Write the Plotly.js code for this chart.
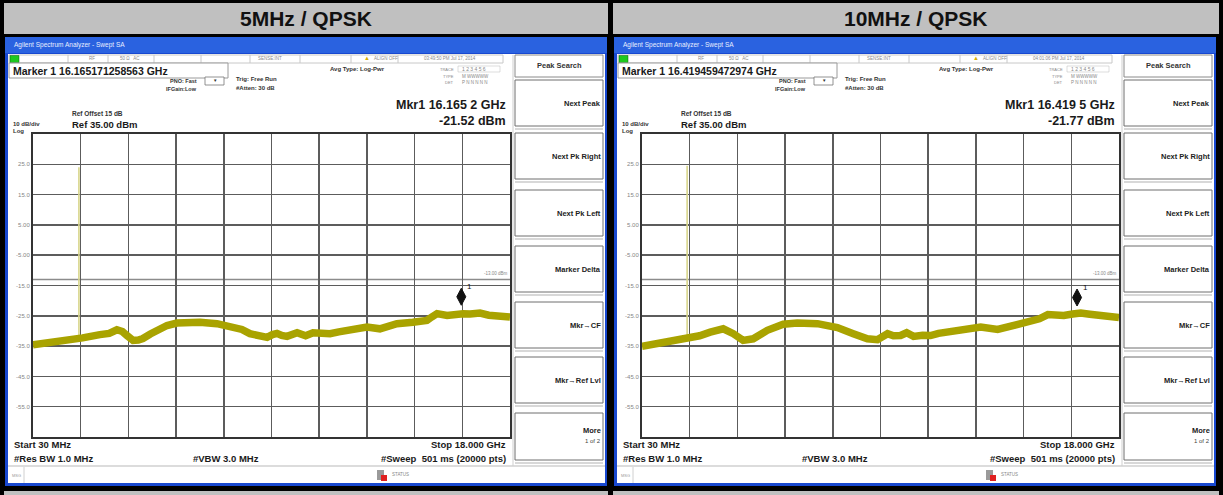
<!DOCTYPE html>
<html><head><meta charset="utf-8">
<script src="https://cdn.plot.ly/plotly-3.0.1.min.js"></script>
<style>html,body{margin:0;padding:0;background:#000}#chart{width:1223px;height:495px}</style>
</head><body><div id="chart"></div>
<script>
// ---------------- DATA ----------------
const panelTitles = ["5MHz / QPSK", "10MHz / QPSK"];

// 5 MHz / QPSK trace (GHz, dBm)
const freq5 = [0.03,0.6,1.31,1.9,2.55,2.9,3.19,3.4,3.57,3.8,4.0,4.17,4.45,4.7,5.08,5.45,5.9,6.32,6.96,7.56,7.9,8.2,8.58,8.85,9.05,9.22,9.4,9.6,9.98,10.3,10.58,10.9,11.22,11.55,11.86,12.2,12.61,13.1,13.4,13.74,14.34,14.87,15.05,15.25,15.63,15.9,16.23,16.5,16.87,17.2,17.51,17.75,18.0];
const level5 = [-34.6,-34.0,-33.1,-32.3,-31.2,-30.8,-29.6,-30.2,-31.5,-33.1,-33.0,-32.5,-31.0,-29.8,-28.2,-27.4,-27.0,-27.1,-27.6,-28.7,-29.5,-30.9,-31.8,-32.1,-31.2,-30.8,-31.5,-31.8,-30.6,-31.6,-30.6,-31.0,-30.9,-30.3,-29.8,-29.6,-28.7,-29.3,-28.5,-27.6,-27.1,-26.5,-25.4,-24.3,-24.9,-24.5,-24.3,-24.4,-24.1,-24.8,-25.2,-25.7,-25.4];

// 10 MHz / QPSK trace (GHz, dBm)
const freq10 = [0.03,0.71,1.2,1.73,2.2,2.6,3.09,3.47,3.84,4.22,4.5,4.75,5.35,5.88,6.64,7.39,7.99,8.52,8.9,9.1,9.28,9.5,9.77,10.0,10.26,10.6,10.9,11.2,11.54,12.15,12.79,13.43,14.04,14.68,15.0,15.32,15.92,16.25,16.56,16.9,17.21,17.6,18.0];
const level10 = [-35.1,-34.0,-33.5,-32.6,-31.6,-30.4,-29.3,-30.9,-33.1,-32.6,-31.2,-29.8,-27.8,-27.4,-27.6,-28.9,-30.9,-32.6,-32.9,-31.6,-30.9,-31.6,-31.5,-30.6,-31.8,-31.4,-31.5,-30.8,-30.4,-29.8,-28.7,-29.5,-28.2,-27.1,-26.0,-24.6,-24.9,-24.4,-24.1,-24.5,-24.9,-25.3,-25.6];

// carrier spike (GHz, dBm)
const carrierFreq5 = [1.76, 1.76];
const carrierLevel5 = [-33.0, 24.0];
const carrierFreq10 = [1.73, 1.73];
const carrierLevel10 = [-32.6, 24.5];

// marker 1
const markerFreq = [16.165171258563, 16.419459472974];
const markerLevel = [-21.52, -21.77];
const markerReadout = ["Marker 1 16.165171258563 GHz", "Marker 1 16.419459472974 GHz"];
const mkrFreqText = ["Mkr1 16.165 2 GHz", "Mkr1 16.419 5 GHz"];
const mkrLevelText = ["-21.52 dBm", "-21.77 dBm"];
const timeStamps = ["03:49:50 PM Jul 17, 2014", "04:01:06 PM Jul 17, 2014"];

const displayLine = -13;
const freqStart = 0.03, freqStop = 18.0, freqDiv = 1.797;
const refLevel = 35, bottomLevel = -65;
const yTickVals = [25, 15, 5, -5, -15, -25, -35, -45, -55];
const yTickText = ["25.0", "15.0", "5.00", "-5.00", "-15.0", "-25.0", "-35.0", "-45.0", "-55.0"];
const softkeys = ["Next Peak", "Next Pk Right", "Next Pk Left", "Marker Delta", "Mkr\u2192CF", "Mkr\u2192Ref Lvl"];

// ---------------- LAYOUT HELPERS ----------------
const W = 1223, H = 495;
const X = p => p / W, Y = p => 1 - p / H;
const shapes = [], annotations = [];
const FONT = "Liberation Sans, Arial, sans-serif";
function rect(x0, y0, x1, y1, fill, line, lw) {
  shapes.push({type: 'rect', xref: 'paper', yref: 'paper', x0: X(x0), x1: X(x1), y0: Y(y1), y1: Y(y0),
    fillcolor: fill, line: {color: line || 'rgba(0,0,0,0)', width: lw || 0}, layer: 'below'});
}
function seg(x0, y0, x1, y1, color, w) {
  shapes.push({type: 'line', xref: 'paper', yref: 'paper', x0: X(x0), x1: X(x1), y0: Y(y0), y1: Y(y1),
    line: {color: color, width: w || 1}, layer: 'below'});
}
function txt(x, y, text, size, anchor, color, bold) {
  annotations.push({xref: 'paper', yref: 'paper', x: X(x), y: Y(y), text: bold ? '<b>' + text + '</b>' : text,
    showarrow: false, xanchor: anchor || 'left', yanchor: 'middle',
    font: {family: FONT, size: size, color: color || '#1a1a1a'}});
}

// outer background pieces
const cells = [[4, 608], [613, 1219]];
cells.forEach((c, i) => {
  rect(c[0], 3, c[1], 34, '#c0c0c0');
  rect(c[0], 491, c[1], 495, '#c0c0c0');
  txt((c[0] + c[1]) / 2, 18.5, panelTitles[i], 21, 'center', '#111', true);
});

const traces = [];
const panelData = [
  {ox: 0, xa: 'x', ya: 'y', f: freq5, l: level5, cf: carrierFreq5, cl: carrierLevel5},
  {ox: 609, xa: 'x2', ya: 'y2', f: freq10, l: level10, cf: carrierFreq10, cl: carrierLevel10}
];

panelData.forEach((p, i) => {
  const o = p.ox;
  // window frame
  rect(o + 5, 37, o + 607, 486, '#1848d0');
  rect(o + 5, 37, o + 607, 53, '#2a62e0');
  rect(o + 8, 54, o + 605, 483, '#ffffff');
  txt(o + 12, 45, 'Agilent Spectrum Analyzer - Swept SA', 6.5, 'left', '#e8eeff');
  // status row
  rect(o + 9, 55, o + 503, 63, '#ffffff', '#c8c8c8', 1);
  rect(o + 10, 55.5, o + 19, 62.5, '#1ec81e', '#0a600a', 0.5);
  [68, 108, 154, 201, 250, 300, 351, 398].forEach(sx => seg(o + sx, 55, o + sx, 63, '#c8c8c8', 1));
  txt(o + 92, 59, 'RF', 4.5, 'center', '#8a8a8a');
  txt(o + 130, 59, '50 \u03a9   AC', 4.5, 'center', '#8a8a8a');
  txt(o + 270, 59, 'SENSE:INT', 4.5, 'center', '#8a8a8a');
  txt(o + 367, 58.5, '\u25b2', 6, 'center', '#d8b000');
  txt(o + 372, 59, 'ALIGN OFF', 4.5, 'left', '#8a8a8a');
  txt(o + 450, 59, timeStamps[i], 4.5, 'center', '#8a8a8a');
  // marker readout box
  rect(o + 9, 63, o + 228, 78, '#ffffff', '#9a9a9a', 1);
  txt(o + 11, 70.5, markerReadout[i], 10.5, 'left', '#1a1a1a', true);
  txt(o + 199, 81, 'PNO: Fast', 5.5, 'right', '#333', true);
  txt(o + 199, 89, 'IFGain:Low', 5.5, 'right', '#333', true);
  rect(o + 205, 77, o + 224, 85, '#ffffff', '#777', 0.8);
  txt(o + 214.5, 81, '\u25bc', 4.5, 'center', '#333');
  txt(o + 234, 79, 'Trig: Free Run', 6, 'left', '#333', true);
  txt(o + 234, 88, '#Atten: 30 dB', 6, 'left', '#333', true);
  txt(o + 328, 69, 'Avg Type: Log-Pwr', 6, 'left', '#333', true);
  // trace table
  txt(o + 456, 69, 'TRACE', 4, 'right', '#888');
  rect(o + 458, 66, o + 500, 72, '#ffffff', '#bbb', 0.5);
  txt(o + 460, 69, '1 2 3 4 5 6', 5, 'left', '#888');
  txt(o + 456, 76, 'TYPE', 4, 'right', '#888');
  txt(o + 460, 76, 'M WWWWW', 4.5, 'left', '#888');
  txt(o + 456, 83, 'DET', 4, 'right', '#888');
  txt(o + 460, 83, 'P N N N N N', 4.5, 'left', '#888');
  // marker readout big
  txt(o + 508, 105, mkrFreqText[i], 12.5, 'right', '#1a1a1a', true);
  txt(o + 508, 121, mkrLevelText[i], 12.5, 'right', '#1a1a1a', true);
  txt(o + 70, 113, 'Ref Offset 15 dB', 6.5, 'left', '#333', true);
  txt(o + 70, 124.5, 'Ref 35.00 dBm', 9.5, 'left', '#1a1a1a', true);
  txt(o + 11, 124.5, '10 dB/div', 6, 'left', '#333', true);
  txt(o + 11, 130.5, 'Log', 6, 'left', '#333', true);
  // bottom text
  txt(o + 12, 444.5, 'Start 30 MHz', 9.5, 'left', '#1a1a1a', true);
  txt(o + 508, 444.5, 'Stop 18.000 GHz', 9.5, 'right', '#1a1a1a', true);
  txt(o + 12, 458.5, '#Res BW 1.0 MHz', 9.5, 'left', '#1a1a1a', true);
  txt(o + 191, 458.5, '#VBW 3.0 MHz', 9.5, 'left', '#1a1a1a', true);
  txt(o + 508, 458.5, '#Sweep  501 ms (20000 pts)', 9.5, 'right', '#1a1a1a', true);
  // status bar
  seg(o + 8, 466, o + 605, 466, '#d0d0d0', 1.5);
  seg(o + 24, 467, o + 24, 483, '#d0d0d0', 1);
  txt(o + 10, 475, 'MSG', 4, 'left', '#999');
  rect(o + 377, 470, o + 384, 480, '#9a9a9a');
  rect(o + 381, 475, o + 387, 481, '#e02020');
  txt(o + 390, 474.5, 'STATUS', 4.5, 'left', '#888');
  // softkeys
  seg(o + 513, 55, o + 513, 466, '#cfcfcf', 1);
  rect(o + 515, 55, o + 603, 77, '#ffffff', '#8a8a8a', 1);
  txt(o + 559, 66, 'Peak Search', 7.5, 'center', '#333', true);
  const tops = [80, 133, 190, 246, 302, 357];
  tops.forEach((t, k) => {
    rect(o + 515, t, o + 603, t + 46, '#ffffff', '#6e6e6e', 1);
    seg(o + 515, t + 49, o + 603, t + 49, '#d8d8d8', 2);
    txt(o + 603, t + 23, softkeys[k], 7.5, 'right', '#222', true);
  });
  rect(o + 515, 413, o + 603, 460, '#ffffff', '#6e6e6e', 1);
  seg(o + 515, 463, o + 603, 463, '#d8d8d8', 2);
  txt(o + 603, 430, 'More', 7.5, 'right', '#222', true);
  txt(o + 603, 441, '1 of 2', 6, 'right', '#444');

  // display line
  shapes.push({type: 'line', xref: p.xa, yref: p.ya, x0: freqStart, x1: freqStop, y0: displayLine, y1: displayLine,
    line: {color: '#8c8c8c', width: 1.5}, layer: 'below'});
  annotations.push({xref: p.xa, yref: p.ya, x: freqStop, y: displayLine, xanchor: 'right', yanchor: 'bottom',
    yshift: 1, showarrow: false, text: displayLine.toFixed(2) + ' dBm', font: {family: FONT, size: 4.5, color: '#888'}});

  // traces
  traces.push({type: 'scatter', mode: 'lines', x: p.cf, y: p.cl, xaxis: p.xa, yaxis: p.ya,
    line: {color: '#d8d68a', width: 1.6}, hoverinfo: 'skip', showlegend: false});
  traces.push({type: 'scatter', mode: 'lines', x: p.f, y: p.l, xaxis: p.xa, yaxis: p.ya,
    line: {color: '#a9a300', width: 7.5, shape: 'linear'}, hoverinfo: 'skip', showlegend: false});

  // marker diamond above the marker point
  shapes.push({type: 'path', xref: p.xa, yref: p.ya, xsizemode: 'pixel', ysizemode: 'pixel',
    xanchor: markerFreq[i], yanchor: markerLevel[i],
    path: 'M 0 0 L 4.5 8.5 L 0 17 L -4.5 8.5 Z', fillcolor: '#111', line: {color: '#111', width: 1}, layer: 'above'});
  annotations.push({xref: p.xa, yref: p.ya, x: markerFreq[i], y: markerLevel[i], xshift: 8, yshift: 19,
    showarrow: false, text: '1', font: {family: FONT, size: 8, color: '#111'}});
});

function xAxis(dom) {
  return {domain: dom, range: [freqStart, freqStop], tick0: freqStart, dtick: freqDiv, showticklabels: false,
    ticks: '', showgrid: true, gridcolor: '#5c5c5c', gridwidth: 1.5, zeroline: false, showline: true, mirror: true,
    linecolor: '#333333', linewidth: 2, fixedrange: true};
}
function yAxis(dom, anchor) {
  return {domain: dom, anchor: anchor, range: [bottomLevel, refLevel], tickmode: 'array', tickvals: yTickVals,
    ticktext: yTickText, tickfont: {family: FONT, size: 6, color: '#858585'}, ticks: '', showgrid: true,
    gridcolor: '#5c5c5c', gridwidth: 1.5, zeroline: false, showline: true, mirror: true, linecolor: '#333333',
    linewidth: 2, fixedrange: true};
}
const yDom = [1 - 437 / H, 1 - 134 / H];
const layout = {
  width: W, height: H, margin: {l: 0, r: 0, t: 0, b: 0},
  paper_bgcolor: '#000000', plot_bgcolor: 'rgba(0,0,0,0)', showlegend: false,
  xaxis: Object.assign(xAxis([33 / W, 510 / W]), {anchor: 'y'}),
  yaxis: yAxis(yDom, 'x'),
  xaxis2: Object.assign(xAxis([642 / W, 1119 / W]), {anchor: 'y2'}),
  yaxis2: yAxis(yDom, 'x2'),
  shapes: shapes, annotations: annotations
};
Plotly.newPlot('chart', traces, layout, {staticPlot: true, displayModeBar: false});
</script></body></html>
